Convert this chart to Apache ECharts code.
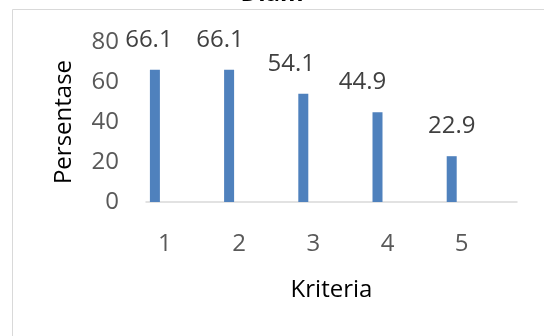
<!DOCTYPE html>
<html>
<head>
<meta charset="utf-8">
<script src="https://cdn.jsdelivr.net/npm/echarts@6/dist/echarts.min.js"></script>
<style>
  html, body { margin: 0; padding: 0; background: #fff; }
  #chart { width: 544px; height: 336px; }
</style>
</head>
<body>
<div id="chart"></div>
<script>
// Chart data
const titleText = 'Diam';
const categories = ['1', '2', '3', '4', '5'];
const values = [66.1, 66.1, 54.1, 44.9, 22.9];
const yTicks = [0, 20, 40, 60, 80];
const xName = 'Kriteria';
const yName = 'Persentase';

const FONT = '"Open Sans", "Noto Sans", sans-serif';

// horizontal nudges for the value labels (px)
const labelNudge = [-6, -9, -12, -15, 0];

const chart = echarts.init(document.getElementById('chart'), null, { renderer: 'canvas' });

// bars sit at category positions 1..5 on a numeric x scale
const barData = values.map((v, i) => ({
  value: [i + 1, v],
  label: { offset: [labelNudge[i], 0] }
}));

const isWhole = v => Math.abs(v - Math.round(v)) < 1e-6;

chart.setOption({
  animation: false,
  backgroundColor: '#ffffff',
  graphic: [{
    type: 'rect',
    shape: { x: 12.5, y: 9.5, width: 600, height: 400 },
    style: { fill: 'none', stroke: '#d9d9d9', lineWidth: 1 },
    silent: true,
    z: -1
  }],
  title: {
    text: titleText,
    left: 'center',
    top: -23,
    textStyle: { fontFamily: FONT, fontSize: 24, fontWeight: 'bold', color: '#000' }
  },
  grid: { left: 146, right: 27, top: 42, bottom: 134 },
  xAxis: {
    type: 'value',
    min: 0.88,
    max: 5.88,
    name: xName,
    nameLocation: 'middle',
    nameGap: 76,
    nameTextStyle: { fontFamily: FONT, fontSize: 24, color: '#000' },
    axisLine: { show: true, onZero: false, lineStyle: { color: '#d9d9d9', width: 1.5 } },
    axisTick: { show: false },
    splitLine: { show: false },
    axisLabel: {
      fontFamily: FONT,
      fontSize: 24,
      color: '#595959',
      margin: 30,
      padding: [0, 0, 0, 20],
      showMinLabel: true,
      showMaxLabel: true,
      formatter: v => isWhole(v) ? (categories[Math.round(v) - 1] || '') : ''
    }
  },
  yAxis: {
    type: 'value',
    min: yTicks[0],
    max: yTicks[yTicks.length - 1],
    interval: yTicks[1] - yTicks[0],
    name: yName,
    nameLocation: 'middle',
    nameGap: 70,
    nameTextStyle: { fontFamily: FONT, fontSize: 24, color: '#000' },
    axisLine: { show: false },
    axisTick: { show: false },
    splitLine: { show: false },
    axisLabel: { fontFamily: FONT, fontSize: 24, color: '#595959', margin: 27 }
  },
  series: [{
    type: 'bar',
    data: barData,
    barWidth: 10,
    itemStyle: { color: '#4f81bd' },
    label: {
      show: true,
      position: 'top',
      distance: 18,
      fontFamily: FONT,
      fontSize: 24,
      color: '#404040',
      formatter: p => p.value[1].toFixed(1)
    }
  }]
});
</script>
</body>
</html>
